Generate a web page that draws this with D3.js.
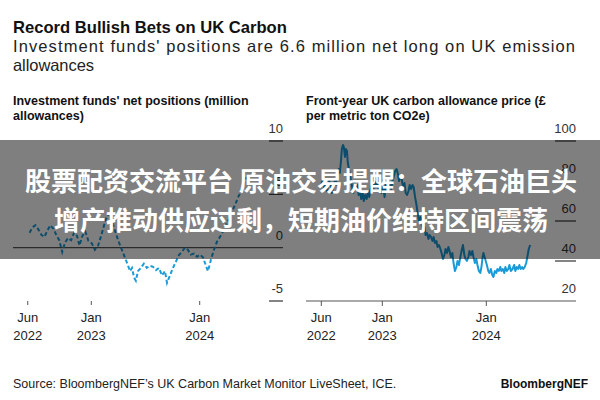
<!DOCTYPE html>
<html lang="en">
<head>
<meta charset="utf-8">
<script src="https://d3js.org/d3.v7.min.js"></script>
<style>
    body { margin: 0; background: #fff; }
    svg { font-family: "Liberation Sans", Arial, Helvetica, sans-serif; }
</style>
</head>
<body>
<script>
    // investment funds' net positions (million allowances)
    var positions = [
        ["2022-06-07", 1.4], ["2022-06-17", 1.9], ["2022-06-27", 2.1], ["2022-07-07", 1.7],
        ["2022-07-17", 1.2], ["2022-07-27", 1.0], ["2022-08-06", 1.6], ["2022-08-16", 2.1],
        ["2022-08-26", 1.8], ["2022-09-05", 1.2], ["2022-09-15", 0.7], ["2022-09-25", -0.4],
        ["2022-10-05", 0.5], ["2022-10-15", 0.9], ["2022-10-25", 0.7], ["2022-11-04", 1.4],
        ["2022-11-14", 1.1], ["2022-11-22", 0.2], ["2022-12-02", 1.1], ["2022-12-12", 1.5],
        ["2022-12-22", 0.65], ["2023-01-03", 0.4], ["2023-01-13", -0.2], ["2023-01-24", 0.2],
        ["2023-02-03", 1.1], ["2023-02-13", 2.1], ["2023-02-23", 3.0], ["2023-03-05", 3.2],
        ["2023-03-15", 2.2], ["2023-03-25", 1.3], ["2023-04-04", 0.5], ["2023-04-14", -0.2],
        ["2023-04-24", -0.9], ["2023-05-05", -1.7], ["2023-05-11", -2.2], ["2023-05-18", -1.9],
        ["2023-05-25", -2.8], ["2023-05-31", -3.1], ["2023-06-07", -2.2], ["2023-06-17", -1.9],
        ["2023-06-27", -1.5], ["2023-07-07", -1.9], ["2023-07-17", -1.7], ["2023-07-28", -1.8],
        ["2023-08-07", -2.1], ["2023-08-17", -1.9], ["2023-08-27", -2.6], ["2023-09-06", -2.2],
        ["2023-09-13", -3.3], ["2023-09-23", -2.6], ["2023-10-03", -1.9], ["2023-10-13", -1.3],
        ["2023-10-23", -0.7], ["2023-11-02", -0.4], ["2023-11-12", 0], ["2023-11-22", -0.2],
        ["2023-12-02", -0.65], ["2023-12-13", -0.55], ["2023-12-23", -0.85], ["2024-01-02", -0.65],
        ["2024-01-12", -0.9], ["2024-01-22", -1.7], ["2024-01-29", -2.2], ["2024-02-08", -1.1],
        ["2024-02-18", -0.2], ["2024-02-28", 0.55], ["2024-03-09", 1.0], ["2024-03-19", 1.5],
        ["2024-03-29", 2.1], ["2024-04-09", 2.7], ["2024-04-19", 3.4], ["2024-04-29", 4.0],
        ["2024-05-09", 4.7], ["2024-05-19", 5.3], ["2024-05-29", 6.0], ["2024-06-05", 6.6]
    ];

    // front-year UK carbon allowance price (GBP per ton)
    var prices = [
        ["2022-06-01", 78], ["2022-06-06", 81], ["2022-06-10", 77], ["2022-06-15", 79],
        ["2022-06-20", 75], ["2022-06-24", 77], ["2022-06-29", 80], ["2022-07-04", 78],
        ["2022-07-08", 74], ["2022-07-13", 77], ["2022-07-18", 80], ["2022-07-22", 78],
        ["2022-07-27", 83], ["2022-08-01", 86], ["2022-08-05", 84], ["2022-08-09", 90],
        ["2022-08-12", 96], ["2022-08-16", 98], ["2022-08-19", 97], ["2022-08-23", 92],
        ["2022-08-26", 96], ["2022-08-30", 95], ["2022-09-02", 89], ["2022-09-06", 86],
        ["2022-09-09", 84], ["2022-09-13", 80], ["2022-09-16", 78], ["2022-09-21", 74],
        ["2022-09-26", 79], ["2022-09-30", 76], ["2022-10-05", 78], ["2022-10-10", 73],
        ["2022-10-14", 76], ["2022-10-19", 71], ["2022-10-24", 74], ["2022-10-28", 70],
        ["2022-11-02", 73], ["2022-11-07", 71], ["2022-11-11", 74], ["2022-11-16", 72],
        ["2022-11-21", 76], ["2022-11-25", 78], ["2022-11-30", 75], ["2022-12-05", 80],
        ["2022-12-09", 77], ["2022-12-14", 79], ["2022-12-19", 76], ["2022-12-23", 78],
        ["2022-12-29", 74], ["2023-01-04", 77], ["2023-01-09", 72], ["2023-01-13", 78],
        ["2023-01-18", 75], ["2023-01-23", 80], ["2023-01-27", 78], ["2023-02-01", 76],
        ["2023-02-06", 80], ["2023-02-10", 82], ["2023-02-15", 85], ["2023-02-20", 86],
        ["2023-02-24", 84], ["2023-03-01", 80], ["2023-03-06", 83], ["2023-03-10", 81],
        ["2023-03-15", 77], ["2023-03-20", 79], ["2023-03-24", 74], ["2023-03-29", 73],
        ["2023-04-03", 75], ["2023-04-07", 78], ["2023-04-12", 76], ["2023-04-17", 78],
        ["2023-04-21", 77], ["2023-04-26", 72], ["2023-05-01", 68], ["2023-05-05", 64],
        ["2023-05-10", 60], ["2023-05-15", 62], ["2023-05-19", 58], ["2023-05-24", 56],
        ["2023-05-29", 57], ["2023-06-02", 53], ["2023-06-07", 54], ["2023-06-12", 51],
        ["2023-06-16", 53], ["2023-06-21", 52], ["2023-06-26", 50], ["2023-06-30", 52],
        ["2023-07-05", 49], ["2023-07-10", 50], ["2023-07-14", 47], ["2023-07-19", 48],
        ["2023-07-24", 46], ["2023-07-28", 44], ["2023-08-02", 41], ["2023-08-07", 43],
        ["2023-08-11", 46], ["2023-08-16", 44], ["2023-08-21", 47], ["2023-08-25", 45],
        ["2023-08-30", 42], ["2023-09-04", 44], ["2023-09-08", 39], ["2023-09-13", 35],
        ["2023-09-18", 37], ["2023-09-22", 40], ["2023-09-27", 38], ["2023-10-02", 42],
        ["2023-10-06", 45], ["2023-10-11", 48], ["2023-10-16", 43], ["2023-10-20", 41],
        ["2023-10-25", 40], ["2023-10-30", 42], ["2023-11-03", 45], ["2023-11-08", 43],
        ["2023-11-13", 45], ["2023-11-17", 42], ["2023-11-22", 39], ["2023-11-27", 41],
        ["2023-12-01", 38], ["2023-12-06", 35], ["2023-12-11", 34], ["2023-12-15", 37],
        ["2023-12-19", 42], ["2023-12-22", 44], ["2023-12-28", 41], ["2024-01-03", 38],
        ["2024-01-08", 35], ["2024-01-12", 34], ["2024-01-17", 36], ["2024-01-22", 33],
        ["2024-01-26", 32], ["2024-01-31", 35], ["2024-02-05", 34], ["2024-02-09", 36],
        ["2024-02-14", 35], ["2024-02-19", 37], ["2024-02-23", 35], ["2024-02-28", 36],
        ["2024-03-04", 34], ["2024-03-08", 37], ["2024-03-13", 35], ["2024-03-18", 36],
        ["2024-03-22", 38], ["2024-03-27", 35], ["2024-04-02", 36], ["2024-04-08", 38],
        ["2024-04-12", 35], ["2024-04-17", 37], ["2024-04-22", 36], ["2024-04-26", 38],
        ["2024-05-01", 36], ["2024-05-06", 37], ["2024-05-10", 36], ["2024-05-15", 37],
        ["2024-05-20", 39], ["2024-05-24", 42], ["2024-05-29", 46], ["2024-06-03", 48]
    ];

    var posTicks = [-5, 0, 5, 10];
    var priceTicks = [20, 40, 60, 80, 100];
    var dateTicks = ["2022-06-01", "2023-01-01", "2024-01-01"];

    var parse = d3.timeParse("%Y-%m-%d");
    var blue = "#1a9bd8";

    var svg = d3.select("body").append("svg")
        .attr("width", 600)
        .attr("height", 400);

    // headline
    svg.append("text").attr("x", 13).attr("y", 33)
        .style("font-size", "16.6px").style("font-weight", "bold").attr("fill", "#111")
        .text("Record Bullish Bets on UK Carbon");
    svg.append("text").attr("x", 13).attr("y", 52)
        .style("font-size", "16.5px").attr("fill", "#222")
        .attr("textLength", 562).attr("lengthAdjust", "spacing")
        .text("Investment funds' positions are 6.6 million net long on UK emission");
    svg.append("text").attr("x", 13).attr("y", 71)
        .style("font-size", "16.5px").attr("fill", "#222")
        .attr("textLength", 81).attr("lengthAdjust", "spacing")
        .text("allowances");

    // panel titles
    function panelTitle(x, lines) {
        lines.forEach(function (t, i) {
            svg.append("text").attr("x", x).attr("y", 105 + i * 14.5)
                .style("font-size", "12.5px").style("font-weight", "bold").attr("fill", "#111")
                .text(t);
        });
    }
    panelTitle(13, ["Investment funds' net positions (million", "allowances)"]);
    panelTitle(306, ["Front-year UK carbon allowance price (£", "per metric ton CO2e)"]);

    // ---- left panel
    var xL = d3.scaleTime()
        .domain([parse("2023-01-01"), parse("2024-01-01")])
        .range([91.3, 199.7]);
    var yL = d3.scaleLinear().domain([-5, 10]).range([301, 141]);

    var gL = svg.append("g");
    posTicks.forEach(function (t) {
        gL.append("line")
            .attr("x1", t === 0 ? 13 : 269).attr("x2", 283)
            .attr("y1", yL(t)).attr("y2", yL(t))
            .attr("stroke", t === 0 ? "#555" : "#333").attr("stroke-width", 1.2);
        gL.append("text").attr("x", 283).attr("y", yL(t) - 8)
            .attr("text-anchor", "end").style("font-size", "13px").attr("fill", "#333")
            .text(t);
    });
    dateTicks.forEach(function (d) {
        var dt = parse(d);
        var x = xL(dt);
        gL.append("line").attr("x1", x).attr("x2", x).attr("y1", 301).attr("y2", 305)
            .attr("stroke", "#555");
        gL.append("text").attr("x", x).attr("y", 322).attr("text-anchor", "middle")
            .style("font-size", "13px").attr("fill", "#222").text(d3.timeFormat("%b")(dt));
        gL.append("text").attr("x", x).attr("y", 340).attr("text-anchor", "middle")
            .style("font-size", "13px").attr("fill", "#222").text(d3.timeFormat("%Y")(dt));
    });
    gL.append("path")
        .datum(positions)
        .attr("fill", "none")
        .attr("stroke", blue)
        .attr("stroke-width", 2)
        .attr("stroke-dasharray", "4,2.5")
        .attr("d", d3.line()
            .x(function (d) { return xL(parse(d[0])); })
            .y(function (d) { return yL(d[1]); }));

    // ---- right panel
    var xR = d3.scaleTime()
        .domain([parse("2023-01-01"), parse("2024-01-01")])
        .range([382.3, 486.3]);
    var yR = d3.scaleLinear().domain([20, 100]).range([301, 141]);

    var gR = svg.append("g");
    priceTicks.forEach(function (t) {
        gR.append("line")
            .attr("x1", t === 20 ? 306 : 555).attr("x2", 576)
            .attr("y1", yR(t)).attr("y2", yR(t))
            .attr("stroke", t === 20 ? "#555" : "#333").attr("stroke-width", 1.2);
        gR.append("text").attr("x", 576).attr("y", yR(t) - 8)
            .attr("text-anchor", "end").style("font-size", "13px").attr("fill", "#333")
            .text(t);
    });
    dateTicks.forEach(function (d) {
        var dt = parse(d);
        var x = xR(dt);
        gR.append("line").attr("x1", x).attr("x2", x).attr("y1", 301).attr("y2", 306)
            .attr("stroke", "#555");
        gR.append("text").attr("x", x).attr("y", 322).attr("text-anchor", "middle")
            .style("font-size", "13px").attr("fill", "#222").text(d3.timeFormat("%b")(dt));
        gR.append("text").attr("x", x).attr("y", 340).attr("text-anchor", "middle")
            .style("font-size", "13px").attr("fill", "#222").text(d3.timeFormat("%Y")(dt));
    });
    gR.append("path")
        .datum(prices)
        .attr("fill", "none")
        .attr("stroke", blue)
        .attr("stroke-width", 2)
        .attr("stroke-linejoin", "round")
        .attr("d", d3.line()
            .x(function (d) { return xR(parse(d[0])); })
            .y(function (d) { return yR(d[1]); }));

    // footer
    svg.append("text").attr("x", 13).attr("y", 388)
        .style("font-size", "12.5px").attr("fill", "#222")
        .text("Source: BloombergNEF\u2019s UK Carbon Market Monitor LiveSheet, ICE.");
    svg.append("text").attr("x", 588).attr("y", 388).attr("text-anchor", "end")
        .style("font-size", "12px").style("font-weight", "bold").attr("fill", "#111")
        .text("BloombergNEF");

    // grey banner with white caption on top
    svg.append("rect").attr("x", 0).attr("y", 140).attr("width", 600).attr("height", 119)
        .attr("fill", "rgba(0,0,0,0.5)");
    var cap = ["股票配资交流平台 原油交易提醒：全球石油巨头", "增产推动供应过剩，短期油价维持区间震荡"];
    cap.forEach(function (t, i) {
        svg.append("text").attr("x", 301).attr("y", 191 + i * 38.5)
            .attr("text-anchor", "middle")
            .style("font-family", "'Noto Sans CJK SC', sans-serif")
            .style("font-size", "26px").style("font-weight", "bold").attr("fill", "#fff")
            .text(t);
    });
</script>
</body>
</html>
